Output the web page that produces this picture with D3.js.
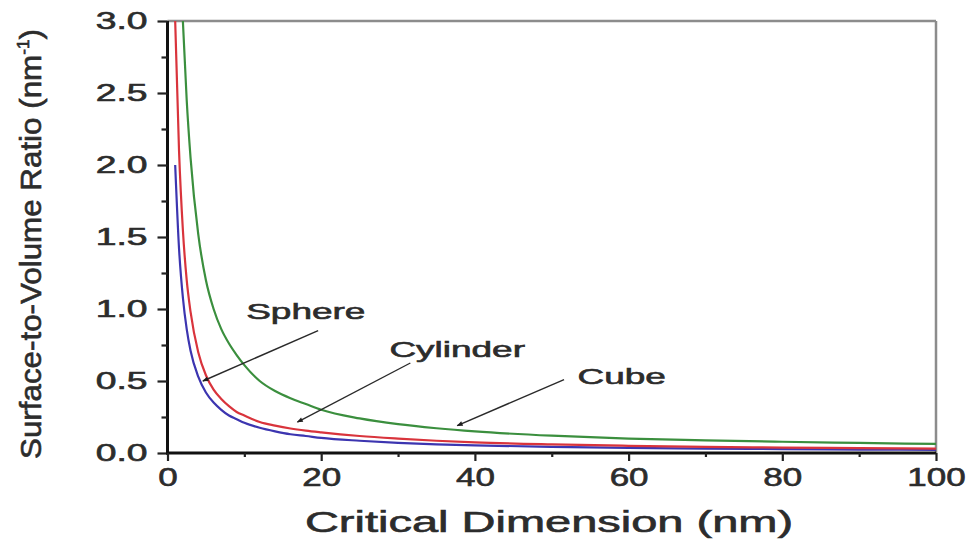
<!DOCTYPE html>
<html><head><meta charset="utf-8">
<script src="https://cdn.jsdelivr.net/npm/d3@7"></script>
<style>html,body{margin:0;padding:0;background:#fff;} svg{display:block;}</style>
</head><body><svg id="chart" width="971" height="546"></svg>
<script>
// ---- data ----
const sizes    = [1, 1.5, 2, 2.5, 3, 4, 5, 6, 7, 8, 9, 10, 12, 14, 16, 18, 20, 25, 30, 35, 40, 50, 60, 70, 80, 90, 100];
const sphere   = [2.0, 1.42, 1.08, 0.86, 0.71, 0.53, 0.42, 0.35, 0.30, 0.26, 0.235, 0.21, 0.175, 0.15, 0.13, 0.118, 0.105, 0.085, 0.07, 0.06, 0.053, 0.043, 0.036, 0.031, 0.027, 0.024, 0.022];
const cylinder = [3.0, 2.1, 1.55, 1.2, 0.98, 0.7, 0.54, 0.44, 0.375, 0.325, 0.285, 0.26, 0.215, 0.19, 0.17, 0.155, 0.143, 0.118, 0.1, 0.085, 0.074, 0.06, 0.05, 0.043, 0.038, 0.034, 0.031];
const cube     = [null, null, 3.0, 2.45, 2.05, 1.52, 1.2, 1.0, 0.86, 0.76, 0.68, 0.61, 0.5, 0.43, 0.38, 0.34, 0.3, 0.24, 0.2, 0.172, 0.15, 0.12, 0.1, 0.088, 0.078, 0.07, 0.063];
const seriesNames = ["Sphere", "Cylinder", "Cube"];
const xTicks = [0, 20, 40, 60, 80, 100];
const xTickLabels = ["0", "20", "40", "60", "80", "100"];
const xMinor = [10, 30, 50, 70, 90];
const yTicks = [0, 0.5, 1.0, 1.5, 2.0, 2.5, 3.0];
const yTickLabels = ["0.0", "0.5", "1.0", "1.5", "2.0", "2.5", "3.0"];
const yMinor = [0.25, 0.75, 1.25, 1.75, 2.25, 2.75];
const xTitle = "Critical Dimension (nm)";
const yTitle = "Surface-to-Volume Ratio (nm";
const yTitleSup = "-1";

// annotation anchors in data units: label centre, line start, arrow tip
const annotations = [
  {name: "Sphere",   tx: 18.0, ty: 0.93, x1: 19.6, y1: 0.85, x2: 4.6,  y2: 0.50},
  {name: "Cylinder", tx: 37.7, ty: 0.67, x1: 31.6, y1: 0.625, x2: 16.9, y2: 0.215},
  {name: "Cube",     tx: 59.1, ty: 0.48, x1: 51.6, y1: 0.51, x2: 37.7, y2: 0.19}
];

// ---- layout / style ----
const W = 971, H = 546;
const L = 167.5, R = 936, T = 21, B = 453;
const colors = {Sphere: "#3c35b0", Cylinder: "#d9343c", Cube: "#3b8f3e"};
const FONT = "'Liberation Sans', Arial, Helvetica, sans-serif";
const TXT = "#2c2c2c";

const svg = d3.select("#chart");
const x = d3.scaleLinear().domain([0, 100]).range([L, R]);
const y = d3.scaleLinear().domain([0, 3]).range([B, T]);

function stretch(sel, f) {
  sel.each(function () {
    const n = this.getComputedTextLength();
    d3.select(this).attr("textLength", n * f).attr("lengthAdjust", "spacingAndGlyphs");
  });
}
function heavy(sel) {
  sel.attr("stroke", TXT).attr("stroke-width", 0.6).attr("paint-order", "stroke");
}

// clip
svg.append("defs").append("clipPath").attr("id", "plotclip")
  .append("rect").attr("x", L).attr("y", T).attr("width", R - L).attr("height", B - T);

svg.select("defs").append("marker").attr("id", "ah")
  .attr("viewBox", "0 0 10 10").attr("refX", 9).attr("refY", 5)
  .attr("markerWidth", 7).attr("markerHeight", 6).attr("markerUnits", "userSpaceOnUse")
  .attr("orient", "auto")
  .append("path").attr("d", "M0,1 L10,5 L0,9 Z").attr("fill", "#1e1e1e");

// frame (top / right)
svg.append("line").attr("x1", L).attr("x2", R).attr("y1", T).attr("y2", T)
  .attr("stroke", "#8c8c8c").attr("stroke-width", 2.5);
svg.append("line").attr("x1", R).attr("x2", R).attr("y1", T).attr("y2", B)
  .attr("stroke", "#8c8c8c").attr("stroke-width", 2.5);

// curves
const series = [sphere, cylinder, cube];
const line = d3.line()
  .defined(d => d.v !== null)
  .x(d => x(d.s)).y(d => y(d.v))
  .curve(d3.curveMonotoneX);
const g = svg.append("g").attr("clip-path", "url(#plotclip)");
series.forEach((vals, i) => {
  const pts = sizes.map((s, j) => ({s: s, v: vals[j]}));
  g.append("path").datum(pts).attr("d", line)
    .attr("fill", "none").attr("stroke", colors[seriesNames[i]])
    .attr("stroke-width", 2.2).attr("stroke-linejoin", "round");
});

// axes
const yAxis = svg.append("g").attr("transform", `translate(${L},0)`)
  .call(d3.axisLeft(y).tickValues(yTicks).tickFormat((d, i) => yTickLabels[i]).tickSize(10).tickPadding(10));
const yAxisMinor = svg.append("g").attr("transform", `translate(${L},0)`)
  .call(d3.axisLeft(y).tickValues(yMinor).tickFormat("").tickSize(6));
const xAxis = svg.append("g").attr("transform", `translate(0,${B})`)
  .call(d3.axisBottom(x).tickValues(xTicks).tickFormat((d, i) => xTickLabels[i]).tickSize(8).tickPadding(7));
const xAxisMinor = svg.append("g").attr("transform", `translate(0,${B})`)
  .call(d3.axisBottom(x).tickValues(xMinor).tickFormat("").tickSize(4));

[yAxis, yAxisMinor, xAxis, xAxisMinor].forEach(a => {
  a.select(".domain").attr("stroke", "#111").attr("stroke-width", 3);
  a.selectAll(".tick line").attr("stroke", "#222").attr("stroke-width", 2.2);
});
yAxisMinor.select(".domain").remove();
xAxisMinor.select(".domain").remove();
yAxis.select(".domain").attr("d", `M0,${B + 1.5}V${T}`);
xAxis.select(".domain").attr("d", `M${L - 1.5},0H${R}`);

yAxis.selectAll(".tick text").attr("font-family", FONT).attr("font-size", 23).attr("fill", TXT)
  .call(stretch, 1.62).call(heavy);
xAxis.selectAll(".tick text").attr("font-family", FONT).attr("font-size", 25).attr("fill", TXT)
  .call(stretch, 1.4).call(heavy);

// axis titles
svg.append("text").attr("x", 549).attr("y", 532).attr("text-anchor", "middle")
  .attr("font-family", FONT).attr("font-size", 29).attr("fill", TXT)
  .text(xTitle).call(stretch, 1.62).call(heavy);

const yt = svg.append("text").attr("transform", `translate(41,244) rotate(-90)`)
  .attr("text-anchor", "middle").attr("font-family", FONT).attr("font-size", 29).attr("fill", TXT);
yt.append("tspan").text(yTitle);
yt.append("tspan").attr("font-size", 16).attr("dy", -12).text(yTitleSup);
yt.append("tspan").attr("dy", 12).text(")");
yt.attr("textLength", 430).attr("lengthAdjust", "spacingAndGlyphs").call(heavy);

// annotations
annotations.forEach(a => {
  svg.append("line")
    .attr("x1", x(a.x1)).attr("y1", y(a.y1)).attr("x2", x(a.x2)).attr("y2", y(a.y2))
    .attr("stroke", "#2a2a2a").attr("stroke-width", 1.4).attr("marker-end", "url(#ah)");
  svg.append("text").attr("x", x(a.tx)).attr("y", y(a.ty)).attr("text-anchor", "middle")
    .attr("font-family", FONT).attr("font-size", 22).attr("fill", TXT)
    .text(a.name).call(stretch, 1.68).call(heavy);
});
</script>
</body></html>
